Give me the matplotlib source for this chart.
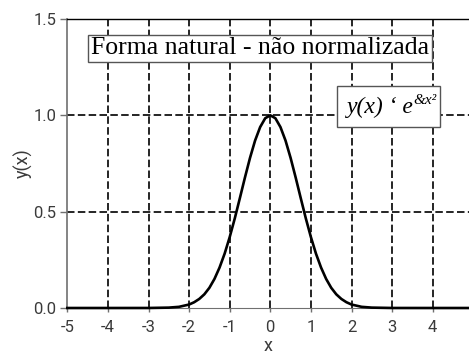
import matplotlib
matplotlib.use("Agg")
import matplotlib.pyplot as plt
from matplotlib.patches import Rectangle

plt.rcParams['axes.unicode_minus'] = False

# gaussian curve, sampled
x = [-5.0, -4.0, -3.0, -2.5, -2.25, -2.0, -1.875, -1.75, -1.625, -1.5, -1.375,
     -1.25, -1.125, -1.0, -0.875, -0.75, -0.625, -0.5, -0.375, -0.25, -0.125,
     0.0, 0.125, 0.25, 0.375, 0.5, 0.625, 0.75, 0.875, 1.0, 1.125, 1.25,
     1.375, 1.5, 1.625, 1.75, 1.875, 2.0, 2.25, 2.5, 3.0, 4.0, 5.0]
y = [0.0, 0.0, 0.0001, 0.002, 0.006, 0.018, 0.03, 0.047, 0.071, 0.105, 0.151,
     0.21, 0.282, 0.368, 0.465, 0.57, 0.677, 0.779, 0.869, 0.939, 0.985,
     1.0, 0.985, 0.939, 0.869, 0.779, 0.677, 0.57, 0.465, 0.368, 0.282, 0.21,
     0.151, 0.105, 0.071, 0.047, 0.03, 0.018, 0.006, 0.002, 0.0001, 0.0, 0.0]

xticks = [-5, -4, -3, -2, -1, 0, 1, 2, 3, 4]
yticks = [0.0, 0.5, 1.0, 1.5]
ytick_labels = ['0.0', '0.5', '1.0', '1.5']
grid_x = [-4, -3, -2, -1, 0, 1, 2, 3, 4]
grid_y = [0.5, 1.0]

fig = plt.figure(figsize=(4.69, 3.54), dpi=100)
ax = fig.add_axes([67.3 / 469, 46 / 354, (469 - 67.3) / 469, 289 / 354])
ax.set_xlim(-5, 4.894)
ax.set_ylim(0, 1.5)

dash = (0, (4.5, 2))
for gx in grid_x:
    ax.axvline(gx, color='black', lw=1.2, ls=dash, zorder=1)
for gy in grid_y:
    ax.axhline(gy, color='black', lw=1.2, ls=dash, zorder=1)

ax.plot(x, y, color='black', lw=1.9, zorder=3, clip_on=False)

ax.set_xticks(xticks)
ax.set_yticks(yticks)
ax.set_yticklabels(ytick_labels)
lab = '#3a3a3a'
ax.tick_params(axis='y', length=5, width=1, color='#707070', pad=3,
               labelsize=12, labelcolor=lab, direction='out')
ax.tick_params(axis='x', length=3, width=1, color='#707070', pad=6,
               labelsize=12, labelcolor=lab, direction='out')
for lbl in ax.get_xticklabels() + ax.get_yticklabels():
    lbl.set_family('Roboto')

ax.spines['right'].set_visible(False)
ax.spines['left'].set_color('#707070')
ax.spines['left'].set_linewidth(1.2)
ax.spines['bottom'].set_color('#707070')
ax.spines['top'].set_color('black')
ax.spines['top'].set_linewidth(1)

ax.set_xlabel('x', family='Roboto', fontsize=13, color=lab, labelpad=1)
ax.set_ylabel('y(x)', family='Roboto', fontsize=13, color=lab, labelpad=0)

ax.text(-0.254, 1.349, 'Forma natural - não normalizada', family='Liberation Serif',
        fontsize=18.5, ha='center', va='center', zorder=5,
        bbox=dict(boxstyle='square,pad=0.1', fc='white', ec='#555555', lw=1))

# formula box
ax.add_patch(Rectangle((1.643, 0.939), 4.18 - 1.643, 1.152 - 0.939,
                       fc='white', ec='#555555', lw=1, zorder=5))
f = ax.text(1.89, 1.012, 'y(x) ‘ e', family='Liberation Serif', style='italic',
            fontsize=17, ha='left', va='baseline', zorder=6)
ax.annotate('&x²', xy=(1.0, 1.0), xycoords=f, xytext=(-0.6, 2),
            textcoords='offset points', family='Liberation Serif',
            style='italic', fontsize=11, ha='left', va='top', zorder=6)

fig.savefig('out.png', dpi=100)
